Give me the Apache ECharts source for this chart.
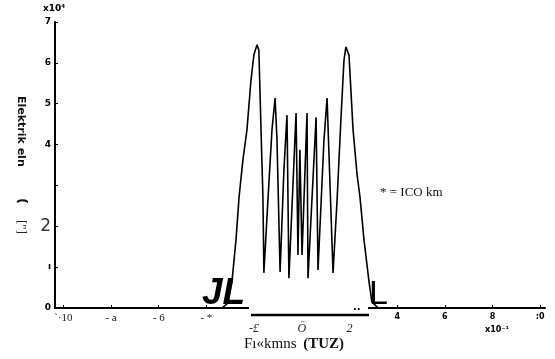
<!DOCTYPE html>
<html>
<head>
<meta charset="utf-8">
<script src="https://cdn.jsdelivr.net/npm/echarts@6/dist/echarts.min.js"></script>
<style>
  html, body { margin: 0; padding: 0; background: #fff; }
  #chart { width: 555px; height: 359px; }
</style>
</head>
<body>
<div id="chart"></div>
<script>
// field profile (x in units of 10^-1, y in units of 10^4)
var fieldX = [-10.35, -3.35, -3.10, -2.93, -2.76, -2.63, -2.47, -2.30, -2.13, -2.01, -1.88, -1.80,
  -1.71, -1.63, -1.59, -1.42, -1.25, -1.12, -1.04, -0.91, -0.75, -0.62, -0.54, -0.24, -0.16,
  -0.08, 0.01, 0.22, 0.26, 0.60, 0.68, 0.93, 1.06, 1.31, 1.48, 1.64, 1.77, 1.85, 1.98, 2.15,
  2.32, 2.44, 2.61, 2.82, 2.94, 3.20, 10.2];
var fieldY = [0, 0, 0.12, 0.64, 1.66, 2.72, 3.62, 4.36, 5.58, 6.19, 6.44, 6.31,
  4.36, 2.72, 0.86, 2.64, 4.36, 5.14, 4.11, 0.88, 3.38, 4.72, 0.73, 4.77, 1.30,
  3.87, 1.30, 4.77, 0.73, 4.67, 0.93, 4.11, 5.14, 0.86, 2.64, 4.60, 6.07, 6.39, 6.19, 4.36,
  3.26, 2.72, 1.66, 0.64, 0.15, 0, 0];

var xTickValues = [-10, -8, -6, -4, -2, 0, 2, 4, 6, 8, 10];
var xTickLabels = ['`·10', '- a', '- 6', '- *', '-£', 'Ö', '2', '4', '6', '8', ':0'];
var yTickLabels = ['0', 'ı', '2', '', '4', '5', '6', '7'];

var chart = echarts.init(document.getElementById('chart'));

var points = [];
for (var i = 0; i < fieldX.length; i++) {
  points.push([fieldX[i], fieldY[i]]);
}

var option = {
  animation: false,
  backgroundColor: '#fff',
  grid: { left: 55, right: 10, top: 22, bottom: 51 },
  xAxis: {
    type: 'value',
    min: -10.35,
    max: 10.2,
    axisLine: { lineStyle: { color: '#000', width: 2 } },
    splitLine: { show: false },
    axisTick: { show: true, inside: true, length: 3, customValues: xTickValues, lineStyle: { color: '#000' } },
    axisLabel: {
      customValues: xTickValues,
      margin: 5,
      formatter: function (v) {
        var idx = xTickValues.indexOf(Math.round(v));
        if (idx < 0) return '';
        var st = 'n';
        if (idx >= 4 && idx <= 6) st = 'it';
        if (idx >= 7) st = 'bd';
        return '{' + st + '|' + xTickLabels[idx] + '}';
      },
      rich: {
        n: { fontFamily: 'Liberation Serif', fontSize: 11, color: '#222' },
        it: { fontFamily: 'Liberation Serif', fontSize: 12, fontStyle: 'italic', color: '#222', padding: [10, 0, 0, 0] },
        bd: { fontFamily: 'DejaVu Sans', fontSize: 8, fontWeight: 'bold', color: '#000' }
      }
    }
  },
  yAxis: {
    type: 'value',
    min: 0,
    max: 7,
    interval: 1,
    axisLine: { show: true, onZero: false, lineStyle: { color: '#000', width: 2 } },
    splitLine: { show: false },
    axisTick: { show: true, inside: true, length: 3, lineStyle: { color: '#000' } },
    axisLabel: {
      margin: 4,
      formatter: function (v) {
        var s = yTickLabels[Math.round(v)] || '';
        if (s === '') return '';
        return (Math.round(v) === 2 ? '{big|' : '{b|') + s + '}';
      },
      rich: {
        b: { fontFamily: 'DejaVu Sans', fontSize: 9, fontWeight: 'bold', color: '#000' },
        big: { fontFamily: 'DejaVu Sans', fontSize: 17, color: '#333' }
      }
    }
  },
  series: [{
    type: 'line',
    data: points,
    symbol: 'none',
    lineStyle: { color: '#000', width: 1.6 },
    z: 3
  }],
  graphic: [
    // gap in the baseline under the artifacts
    { type: 'rect', z: 100, shape: { x: 249, y: 303, width: 119, height: 9 }, style: { fill: '#fff' } },
    { type: 'text', z: 101, x: 202, y: 312, style: { text: 'JL', font: 'italic bold 37px "Liberation Sans"', fill: '#000', verticalAlign: 'bottom' } },
    { type: 'text', z: 101, x: 369, y: 312, style: { text: 'L', font: '34px "Liberation Sans"', fill: '#000', verticalAlign: 'bottom' } },
    { type: 'line', z: 101, shape: { x1: 251, y1: 315, x2: 369, y2: 315 }, style: { stroke: '#000', lineWidth: 2.5 } },
    { type: 'text', z: 101, x: 353, y: 312, style: { text: '..', font: 'bold 10px "DejaVu Sans"', fill: '#000', verticalAlign: 'bottom' } },
    // y axis title, running downwards
    { type: 'text', x: 21, y: 96, rotation: -Math.PI / 2, style: { text: 'Elektrik eln', font: 'bold 11px "DejaVu Sans"', fill: '#111', verticalAlign: 'middle' } },
    { type: 'text', x: 21, y: 198, rotation: -Math.PI / 2, style: { text: '(', font: 'bold 13px "DejaVu Sans"', fill: '#111', verticalAlign: 'middle' } },
    { type: 'text', x: 21, y: 220, rotation: -Math.PI / 2, style: { text: '["]', font: '13px "Liberation Serif"', fill: '#222', verticalAlign: 'middle' } },
    // multipliers
    { type: 'text', x: 43, y: 9, style: { text: 'x10⁴', font: 'bold 9px "DejaVu Sans"', fill: '#000', verticalAlign: 'middle' } },
    { type: 'text', x: 485, y: 330, style: { text: 'x10⁻¹', font: 'bold 8px "DejaVu Sans"', fill: '#000', verticalAlign: 'middle' } },
    // x axis title
    { type: 'text', x: 294, y: 344, style: { text: '{a|Fı«kmns}  {b|(TUZ)}', align: 'center', verticalAlign: 'middle',
      rich: { a: { fontFamily: 'Liberation Serif', fontSize: 15, fill: '#111' }, b: { fontFamily: 'Liberation Serif', fontSize: 15, fontWeight: 'bold', fill: '#111' } } } },
    // annotation
    { type: 'text', x: 380, y: 193, style: { text: '* = ICO km', font: '13px "Liberation Serif"', fill: '#111', verticalAlign: 'middle' } }
  ]
};

chart.setOption(option);
</script>
</body>
</html>
